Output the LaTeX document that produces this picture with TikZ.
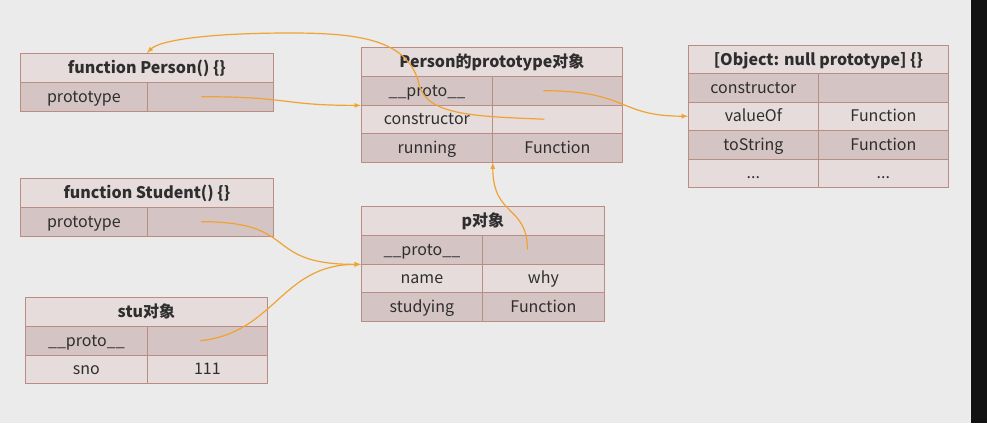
\documentclass[tikz,border=0pt]{standalone}
\usepackage{fontspec}
\setmainfont{Noto Sans CJK SC}
\definecolor{bgGray}{HTML}{EBEBEB}
\definecolor{cellDark}{HTML}{D5C4C4}
\definecolor{cellLight}{HTML}{E6DCDC}
\definecolor{cellLine}{HTML}{B98C84}
\definecolor{txtGray}{HTML}{2E2E2E}
\definecolor{arrOrange}{HTML}{F0A233}
\begin{document}
\begin{tikzpicture}[>=latex,x=1pt,y=-1pt,
  cell/.style={draw=cellLine,line width=0.8pt,anchor=north west,inner sep=0pt,
    minimum height=28.6pt,text height=13pt,text depth=2pt,text=txtGray,
    font=\fontsize{16}{19}\selectfont},
  head/.style={cell,fill=cellLight,font=\fontsize{16}{19}\selectfont\bfseries},
  dark/.style={cell,fill=cellDark},
  light/.style={cell,fill=cellLight},
  link/.style={->,draw=arrOrange,line width=1.2pt}]

\useasboundingbox (0,0) rectangle (987,423);
\fill[bgGray] (0,0) rectangle (971,423);
\fill[black!93] (971,0) rectangle (987,423);

% function Person
\node[head,minimum width=253] (pfn) at (20,53) {function Person() \{\}};
\node[dark,minimum width=127] (pfnK1) at (20,82) {prototype};
\node[dark,minimum width=126] (pfnV1) at (147,82) {};

% Person prototype object
\node[head,minimum width=261] (pp) at (361,47) {Person的prototype对象};
\node[dark,minimum width=131] (ppK1) at (361,76) {\_\_proto\_\_};
\node[dark,minimum width=130] (ppV1) at (492,76) {};
\node[light,minimum width=131] (ppK2) at (361,104.5) {constructor};
\node[light,minimum width=130] (ppV2) at (492,104.5) {};
\node[dark,minimum width=131] (ppK3) at (361,133) {running};
\node[dark,minimum width=130] (ppV3) at (492,133) {Function};

% Object null prototype
\node[head,minimum width=260] (obj) at (688,45) {[Object: null prototype] \{\}};
\node[dark,minimum width=130] (objK1) at (688,73) {constructor};
\node[dark,minimum width=130] (objV1) at (818,73) {};
\node[light,minimum width=130] (objK2) at (688,101.5) {valueOf};
\node[light,minimum width=130] (objV2) at (818,101.5) {Function};
\node[dark,minimum width=130] (objK3) at (688,130) {toString};
\node[dark,minimum width=130] (objV3) at (818,130) {Function};
\node[light,minimum width=130] (objK4) at (688,158.5) {...};
\node[light,minimum width=130] (objV4) at (818,158.5) {...};

% function Student
\node[head,minimum width=253] (sfn) at (20,178) {function Student() \{\}};
\node[dark,minimum width=127] (sfnK1) at (20,207) {prototype};
\node[dark,minimum width=126] (sfnV1) at (147,207) {};

% stu object
\node[head,minimum width=242] (stu) at (25,297) {stu对象};
\node[dark,minimum width=122] (stuK1) at (25,326) {\_\_proto\_\_};
\node[dark,minimum width=120] (stuV1) at (147,326) {};
\node[light,minimum width=122] (stuK2) at (25,354.5) {sno};
\node[light,minimum width=120] (stuV2) at (147,354.5) {111};

% p object
\node[head,minimum width=243] (p) at (361,206) {p对象};
\node[dark,minimum width=121] (pK1) at (361,235) {\_\_proto\_\_};
\node[dark,minimum width=122] (pV1) at (482,235) {};
\node[light,minimum width=121] (pK2) at (361,263.5) {name};
\node[light,minimum width=122] (pV2) at (482,263.5) {why};
\node[dark,minimum width=121] (pK3) at (361,292) {studying};
\node[dark,minimum width=122] (pV3) at (482,292) {Function};

% links
\draw[link] ([xshift=-9pt]pfnV1.center) .. controls +(90,0) and +(-80,0) .. (ppK1.south west);
\draw[link] ([xshift=-13pt]ppV2.center) .. controls +(-75,-3) and +(5,35) .. (418,80)
  .. controls (405,40) and (360,33) .. (290,33)
  .. controls (210,33) and (160,40) .. (pfn.north);
\draw[link] ([xshift=-14pt]ppV1.center) .. controls +(85,0) and +(-70,0) .. (objK2.west);
\draw[link] ([xshift=-9pt]sfnV1.center) .. controls +(100,0) and +(-100,0) .. (pK1.south west);
\draw[link] ([xshift=-7pt]stuV1.center) .. controls +(75,-8) and +(-80,0) .. (pK1.south west);
\draw[link] ([xshift=-16pt]pV1.center) .. controls +(0,-45) and +(0,55) .. (ppK3.south east);

\end{tikzpicture}
\end{document}
